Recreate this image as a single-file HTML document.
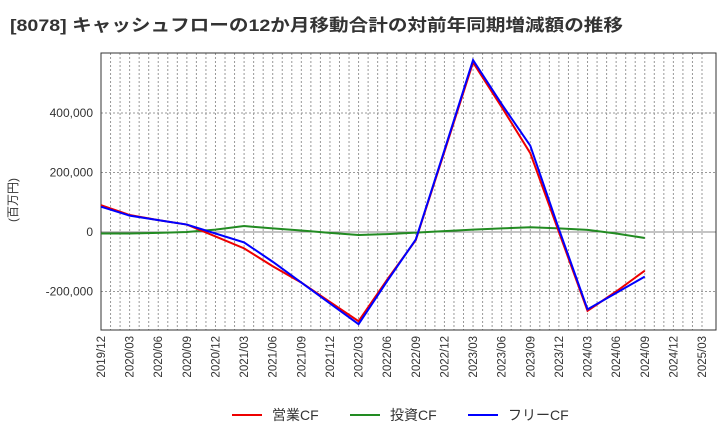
<!DOCTYPE html>
<html><head><meta charset="utf-8"><style>
body{margin:0;background:#fff;font-family:"Liberation Sans","Noto Sans CJK JP",sans-serif}
</style></head><body>
<svg id="chart" width="720" height="440" xmlns="http://www.w3.org/2000/svg">
<text x="10" y="31" font-size="17" font-weight="bold" fill="#333" textLength="613" lengthAdjust="spacingAndGlyphs">[8078]  キャッシュフローの12か月移動合計の対前年同期増減額の推移</text>
<text transform="translate(17,200) rotate(-90)" font-size="12" fill="#333" text-anchor="middle">(百万円)</text>
<g id="grid"></g><g id="axes"></g><g id="series"></g>
<g>
<line x1="232" y1="415" x2="262" y2="415" stroke="#e00" stroke-width="2"/>
<text x="272" y="420" font-size="14" fill="#333">営業CF</text>
<line x1="350" y1="415" x2="380" y2="415" stroke="#228b22" stroke-width="2"/>
<text x="390" y="420" font-size="14" fill="#333">投資CF</text>
<line x1="468" y1="415" x2="498" y2="415" stroke="#00f" stroke-width="2"/>
<text x="508" y="420" font-size="14" fill="#333">フリーCF</text>
</g>
</svg>
<script>
const categories=["2019/12","2020/03","2020/06","2020/09","2020/12","2021/03","2021/06","2021/09","2021/12","2022/03","2022/06","2022/09","2022/12","2023/03","2023/06","2023/09","2023/12","2024/03","2024/06","2024/09","2024/12","2025/03"];
const operatingCF=[90000,57000,40000,25000,-15000,-55000,-115000,-170000,-235000,-300000,-160000,-27000,270000,570000,420000,265000,0,-265000,-200000,-130000];
const investingCF=[-5000,-5000,-3000,0,8000,20000,12000,5000,-3000,-10000,-7000,-2000,3000,8000,12000,16000,12000,7000,-5000,-20000];
const freeCF=[85000,55000,40000,25000,-5000,-35000,-100000,-170000,-240000,-310000,-165000,-25000,275000,578000,430000,290000,10000,-260000,-205000,-150000];
const yTicks=[-200000,0,200000,400000];
const L=101,R=716,T=53,B=330,XR=702;
const x=i=>L+(XR-L)*i/(categories.length-1);
const y=v=>232-v*59.5/200000;
const NS="http://www.w3.org/2000/svg";
function mk(p,t,a){const e=document.createElementNS(NS,t);for(const k in a)e.setAttribute(k,a[k]);p.appendChild(e);return e;}
const grid=document.getElementById('grid'),axes=document.getElementById('axes'),series=document.getElementById('series');
const months=(categories.length-1)*3;
for(let m=1;m<months+1;m++){const gx=L+(XR-L)*m/months;if(gx>=R)break;
const g=mk(grid,'line',{x1:gx,x2:gx,y1:T,y2:B,stroke:'#999','stroke-dasharray':'2,2','stroke-width':1});

}
yTicks.forEach(v=>{const g=mk(grid,'line',{x1:L,x2:R,y1:y(v),y2:y(v),stroke:v===0?'#888':'#999','stroke-dasharray':v===0?'':'2,2','stroke-width':1});


const t=mk(axes,'text',{x:L-8,y:y(v)+4,'font-size':12,fill:'#333','text-anchor':'end'});t.textContent=v.toLocaleString('en-US');

});
const fr=mk(axes,'rect',{x:L,y:T,width:R-L,height:B-T,fill:'none',stroke:'#333'});


categories.forEach((c,i)=>{const t=mk(axes,'text',{transform:`translate(${x(i)+4},${B+6}) rotate(-90)`,'font-size':11.5,fill:'#333','text-anchor':'end'});t.textContent=c;

});
[[investingCF,'#228b22','investing-cf-line'],[operatingCF,'#e00','operating-cf-line'],[freeCF,'#00f','free-cf-line']].forEach(([d,c,n])=>{
const p=mk(series,'polyline',{points:d.map((v,i)=>x(i)+','+y(v)).join(' '),fill:'none',stroke:c,'stroke-width':2});

});
</script>
</body></html>
